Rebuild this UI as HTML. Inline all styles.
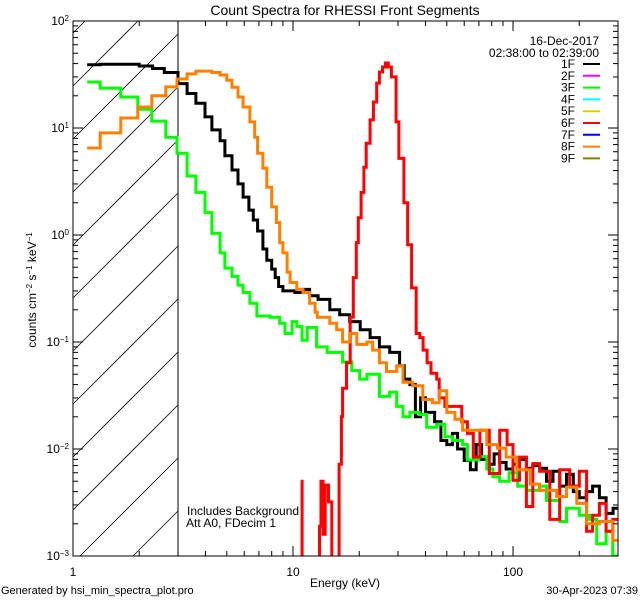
<!DOCTYPE html>
<html><head><meta charset="utf-8">
<style>
html,body{margin:0;padding:0;background:#fff;width:640px;height:600px;overflow:hidden;}
svg{display:block;font-family:"Liberation Sans",sans-serif;}
</style></head>
<body>
<svg id="chart" width="640" height="600" viewBox="0 0 640 600" xmlns="http://www.w3.org/2000/svg" overflow="hidden">
<defs><clipPath id="plotclip"><rect x="73" y="21" width="545" height="535"/></clipPath></defs>
<rect x="0" y="0" width="640" height="600" fill="#fff"/>
<text x="345" y="15" font-size="14" text-anchor="middle">Count Spectra for RHESSI Front Segments</text>
<g id="hatch"></g>
<line x1="178" y1="21" x2="178" y2="556" stroke="#000" stroke-width="1"/>
<g id="series" clip-path="url(#plotclip)"></g>
<rect x="73" y="21" width="545" height="535" fill="none" stroke="#000" stroke-width="1"/>
<g id="axes"></g>
<text transform="translate(36,290) rotate(-90)" font-size="12" text-anchor="middle">counts cm<tspan baseline-shift="super" font-size="8">−2</tspan> s<tspan baseline-shift="super" font-size="8">−1</tspan> keV<tspan baseline-shift="super" font-size="8">−1</tspan></text>
<text x="345" y="587" font-size="12" text-anchor="middle">Energy (keV)</text>
<text x="1" y="594" font-size="11">Generated by hsi_min_spectra_plot.pro</text>
<text x="638" y="594" font-size="11" text-anchor="end">30-Apr-2023 07:39</text>
<text x="187" y="515" font-size="12">Includes Background</text>
<text x="186" y="527" font-size="12">Att A0, FDecim 1</text>
<g id="legend">
<text x="599" y="45" font-size="12" text-anchor="end">16-Dec-2017</text>
<text x="599" y="57" font-size="12" text-anchor="end">02:38:00 to 02:39:00</text>
</g>
</svg>
<script>
// Axis domains
const xDomain = [1, 300];
const yDomain = [0.001, 100];
const xTickLabels = ["1", "10", "100"];
const yTickExps = ["2", "1", "0", "−1", "−2", "−3"];
const seriesNames = ["1F","2F","3F","4F","5F","6F","7F","8F","9F"];
const seriesColors = ["#000000","#ff00ff","#00ff00","#00ffff","#d2d200","#ff0000","#0000ff","#ff8000","#7f7f00"];

// 1F (black)
const e1 = [1.16,1.33,2.0,2.3,2.6,3.0,3.3,3.62,3.98,4.28,4.66,4.9,5.28,5.62,5.93,6.3,6.6,6.9,7.3,7.6,8.0,8.3,8.6,9.0,10.2,11.1,11.9,13,14.7,16.3,18.1,20.2,22.4,24.7,27.5,30.5,32,34,36,38,40,42,44,47,50,53,56,60,64,68,72,77,82,87,93,100,107,115,123,132,142,152,163,175,188,200,215,230,247,265,285];
const v1 = [39,39.5,38,36,33,26,21,17,12.7,9.6,7.6,5.5,4.05,3.0,2.26,1.71,1.38,1.09,0.74,0.58,0.48,0.40,0.33,0.30,0.29,0.31,0.27,0.25,0.20,0.18,0.155,0.13,0.11,0.09,0.08,0.06,0.045,0.04,0.02,0.03,0.022,0.022,0.018,0.012,0.011,0.014,0.01,0.0078,0.0064,0.011,0.008,0.0072,0.009,0.0075,0.0065,0.0072,0.008,0.0066,0.007,0.0066,0.005,0.0062,0.0045,0.0058,0.004,0.0035,0.004,0.0045,0.0035,0.0025,0.0028];
// 3F (green)
const e3 = [1.16,1.33,1.65,1.97,2.28,2.64,2.97,3.3,3.62,3.98,4.28,4.66,4.9,5.28,5.62,5.93,6.37,6.85,7.85,8.7,9.2,9.9,10.4,11,11.6,12.8,14.3,16.8,18.5,20.1,21.7,24.7,27.5,29.6,31.6,34,37.5,40.5,45,49,53,59,62,70,76,81,87,96,105,115,132,142,163,175,200,223,240,265,284];
const v3 = [26.9,23.6,19.5,15,11.6,8.2,5.8,3.56,2.5,1.62,1.04,0.68,0.49,0.41,0.34,0.29,0.23,0.175,0.17,0.15,0.12,0.155,0.14,0.104,0.137,0.09,0.08,0.065,0.054,0.045,0.05,0.031,0.034,0.025,0.02,0.022,0.021,0.016,0.017,0.013,0.012,0.011,0.0079,0.0085,0.0065,0.0055,0.005,0.006,0.0045,0.0041,0.0045,0.0033,0.0021,0.0028,0.0024,0.0022,0.0013,0.0017,0.001];
// 6F (red) – zeros fall below the axis
const e6 = [10.85,11.0,13.2,13.4,13.7,14.0,14.5,15.0,16.2,16.6,16.8,17.5,18.2,18.8,19.4,19.8,20.4,21,21.5,22.4,23.2,24,24.7,25.5,26.3,27.1,28.0,29.4,30.3,31.9,33.2,34.6,36.3,37.7,39,40.7,42.4,45,46.2,49,54.5,58.5,62,66,70.7,78,87,94,100,107,115,123,132,147,163,181,200,216,230,247,265,284];
const v6 = [0.005,0,0.0019,0.005,0.0016,0.0046,0.0032,0,0.0072,0.02,0.037,0.064,0.17,0.4,0.85,1.45,2.5,4.3,7.2,11.9,17.5,26.3,33.4,37.2,40.5,37.2,30,11.4,5.2,2.0,0.81,0.32,0.12,0.11,0.084,0.064,0.051,0.045,0.03,0.025,0.025,0.018,0.014,0.0084,0.015,0.0059,0.015,0.011,0.0051,0.0084,0.0029,0.0073,0.0062,0.0022,0.0064,0.0045,0.0062,0.0017,0.0024,0.0031,0.0017,0.0022];
// 8F (orange)
const e8 = [1.16,1.33,1.65,1.97,2.28,2.64,2.97,3.3,3.62,4.28,4.66,5.0,5.28,5.62,5.93,6.37,6.7,6.9,7.3,7.6,8.0,8.4,8.7,9.0,9.4,9.7,10.4,11.1,11.9,12.6,12.9,14.7,15.8,16.8,18.1,19.5,21.7,23,24.7,26.6,29.6,31.6,35,38.9,43,46.2,50,54.5,59,68,76,85,93,104,120,132,158,175,195,216,247,284];
const v8 = [6.5,9,12.4,15.7,20,24.2,28.7,32,34,33,31.3,28,24,19.5,15.7,11.4,8.2,5.8,4.2,2.8,1.83,1.31,0.85,0.68,0.45,0.36,0.31,0.29,0.23,0.19,0.17,0.15,0.13,0.1,0.12,0.095,0.1,0.084,0.064,0.053,0.06,0.042,0.039,0.029,0.027,0.035,0.022,0.019,0.015,0.015,0.011,0.0102,0.0084,0.0064,0.0047,0.0041,0.0036,0.0044,0.0031,0.002,0.0021,0.0014];

const X0=73, X1=618, Y0=556, Y1=21;
const lx0=Math.log10(xDomain[0]), lx1=Math.log10(xDomain[1]);
const ly0=Math.log10(yDomain[0]), ly1=Math.log10(yDomain[1]);
function xScale(e){return X0+(Math.log10(e)-lx0)/(lx1-lx0)*(X1-X0);}
function yScale(v){ if(v<=0) return 560; return Y0-(Math.log10(v)-ly0)/(ly1-ly0)*(Y0-Y1);}
const NS="http://www.w3.org/2000/svg";
function mk(tag,attrs){const el=document.createElementNS(NS,tag);for(const k in attrs)el.setAttribute(k,attrs[k]);return el;}

// hatch, clipped analytically to the region
const hatch=document.getElementById('hatch');
for(let k=-3;k<14;k++){
  const yl=86+k*53; // y at x=73, slope -1
  const xa=Math.max(73, 73+yl-556), xb=Math.min(178, 73+yl-21);
  if(xb<=xa) continue;
  const ln=mk('line',{x1:xa,y1:yl-(xa-73),x2:xb,y2:yl-(xb-73),stroke:'#000','stroke-width':0.8});
  
  
  hatch.appendChild(ln);
}

// axes ticks
const axes=document.getElementById('axes');
for(let d=0;d<3;d++){
  for(let m=1;m<10;m++){
    const e=m*Math.pow(10,d);
    if(e>xDomain[1]) break;
    const x=xScale(e), len=(m===1)?10:5;
    const t1=mk('line',{x1:x,y1:Y0,x2:x,y2:Y0-len,stroke:'#000','stroke-width':1});
    
    
    axes.appendChild(t1);
    const t2=mk('line',{x1:x,y1:Y1,x2:x,y2:Y1+len,stroke:'#000','stroke-width':1});
    
    
    axes.appendChild(t2);
  }
  const lab=mk('text',{x:xScale(Math.pow(10,d)),y:Y0+20,'font-size':12,'text-anchor':'middle'});
  lab.textContent=xTickLabels[d];
  
  
  axes.appendChild(lab);
}
for(let d=-3;d<=2;d++){
  for(let m=1;m<10;m++){
    const v=m*Math.pow(10,d);
    if(v>yDomain[1]) break;
    const y=yScale(v), len=(m===1)?10:5;
    const t1=mk('line',{x1:X0,y1:y,x2:X0+len,y2:y,stroke:'#000','stroke-width':1});
    
    
    axes.appendChild(t1);
    const t2=mk('line',{x1:X1,y1:y,x2:X1-len,y2:y,stroke:'#000','stroke-width':1});
    
    
    axes.appendChild(t2);
  }
  const lab=mk('text',{x:X0-4,y:yScale(Math.pow(10,d))+4,'font-size':12,'text-anchor':'end'});
  lab.innerHTML='10<tspan baseline-shift="super" font-size="8">'+yTickExps[2-d]+'</tspan>';
  
  
  axes.appendChild(lab);
}

// series
function stepPath(es,vs,endE){
  let d='M'+xScale(es[0]).toFixed(1)+','+yScale(vs[0]).toFixed(1);
  for(let i=0;i<es.length;i++){
    const xe=xScale(i+1<es.length?es[i+1]:endE);
    d+=' H'+xe.toFixed(1);
    if(i+1<es.length) d+=' V'+yScale(vs[i+1]).toFixed(1);
  }
  return d;
}
const sg=document.getElementById('series');
const drawList=[[e1,v1,0,'series-1f'],[e3,v3,2,'series-3f'],[e6,v6,5,'series-6f'],[e8,v8,7,'series-8f']];
drawList.forEach(s=>{
  const p=mk('path',{d:stepPath(s[0],s[1],300),fill:'none',stroke:seriesColors[s[2]],'stroke-width':3,'stroke-linejoin':'miter'});
  
  
  sg.appendChild(p);
});

// legend entries
const lg=document.getElementById('legend');
seriesNames.forEach((n,i)=>{
  const y=68+i*11.8;
  const t=mk('text',{x:575,y:y,'font-size':12,'text-anchor':'end'});
  t.textContent=n;
  
  
  lg.appendChild(t);
  const l=mk('line',{x1:583,y1:y-4,x2:600,y2:y-4,stroke:seriesColors[i],'stroke-width':2});
  
  
  lg.appendChild(l);
});
</script>
</body></html>
